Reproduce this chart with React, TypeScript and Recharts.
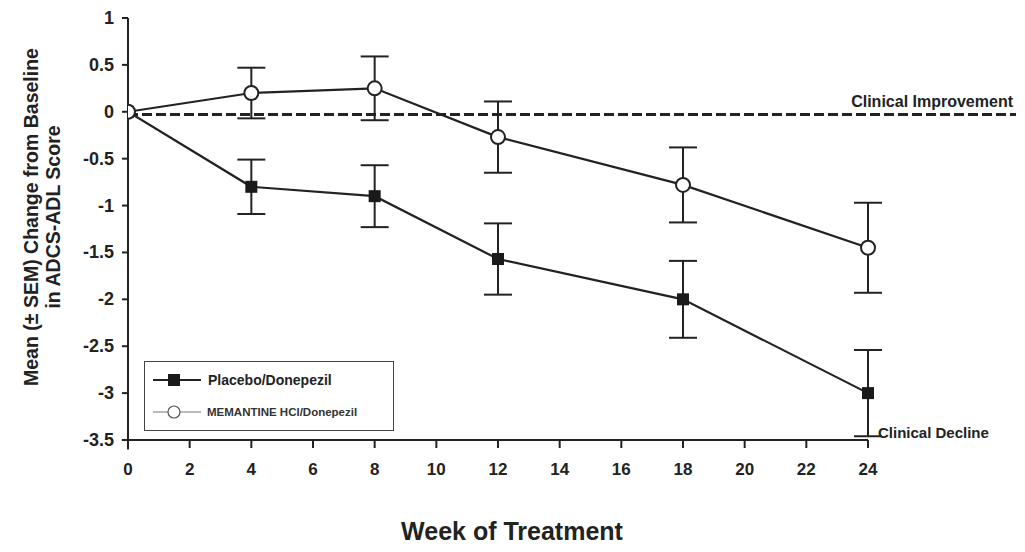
import React from 'react';
import {
  LineChart,
  Line,
  XAxis,
  YAxis,
  ErrorBar,
  ReferenceLine,
  ReferenceDot,
  Legend,
} from 'recharts';

const weeks = [0, 4, 8, 12, 18, 24];
const placeboMean = [0, -0.8, -0.9, -1.57, -2.0, -3.0];
const placeboSem = [0, 0.29, 0.33, 0.38, 0.41, 0.46];
const memantineMean = [0, 0.2, 0.25, -0.27, -0.78, -1.45];
const memantineSem = [0, 0.27, 0.34, 0.38, 0.4, 0.48];

const xTicks = [0, 2, 4, 6, 8, 10, 12, 14, 16, 18, 20, 22, 24];
const yTicks = [-3.5, -3, -2.5, -2, -1.5, -1, -0.5, 0, 0.5, 1];

const placeboData = weeks.map((w, i) => ({ week: w, value: placeboMean[i], err: placeboSem[i] }));
const memantineData = weeks.map((w, i) => ({ week: w, value: memantineMean[i], err: memantineSem[i] }));

const FONT = '"Liberation Sans", Arial, sans-serif';
const INK = '#222';

const SquareDot = (props: any) => {
  const { cx, cy } = props;
  if (cx == null || cy == null) return null;
  return <rect x={cx - 6} y={cy - 6} width={12} height={12} fill="#1a1a1a" />;
};

const CircleDot = (props: any) => {
  const { cx, cy } = props;
  if (cx == null || cy == null) return null;
  return <circle cx={cx} cy={cy} r={7} fill="#fff" stroke={INK} strokeWidth={2} />;
};

const YLabel = (props: any) => {
  const { viewBox } = props;
  const cy = viewBox.y + viewBox.height / 2 - 12;
  return (
    <g fontFamily={FONT} fontWeight="bold" fontSize={19.5} fill={INK} textAnchor="middle">
      <text transform={`translate(${23}, ${cy}) rotate(-90)`} dominantBaseline="central">
        Mean (± SEM) Change from Baseline
      </text>
      <text transform={`translate(${45}, ${cy}) rotate(-90)`} dominantBaseline="central">
        in ADCS-ADL Score
      </text>
    </g>
  );
};

const XTick = (props: any) => {
  const { x, y, payload } = props;
  return (
    <text x={x} y={y + 25} textAnchor="middle" fontFamily={FONT} fontWeight="bold" fontSize={17} fill={INK}>
      {payload.value}
    </text>
  );
};

const YTick = (props: any) => {
  const { x, y, payload } = props;
  return (
    <text x={x - 6} y={y + 6} textAnchor="end" fontFamily={FONT} fontWeight="bold" fontSize={18} fill={INK}>
      {payload.value}
    </text>
  );
};

const ImprovementLabel = (props: any) => {
  const { viewBox } = props;
  return (
    <text
      x={viewBox.x + viewBox.width - 3}
      y={viewBox.y - 8}
      textAnchor="end"
      fontFamily={FONT}
      fontWeight="bold"
      fontSize={16}
      fill={INK}
    >
      Clinical Improvement
    </text>
  );
};

const renderLegend = () => (
  <div
    style={{
      width: 250,
      height: 70,
      border: '1.5px solid #444',
      background: '#fff',
      boxSizing: 'border-box',
    }}
  >
    <svg width={248} height={68}>
      <line x1={8} x2={56} y1={18} y2={18} stroke={INK} strokeWidth={2} />
      <rect x={23} y={12} width={12} height={12} fill="#1a1a1a" />
      <text x={63} y={23} fontFamily={FONT} fontWeight="bold" fontSize={14} fill={INK}>
        Placebo/Donepezil
      </text>
      <line x1={8} x2={56} y1={50} y2={50} stroke="#777" strokeWidth={1.2} />
      <circle cx={29} cy={50} r={6} fill="#fff" stroke="#555" strokeWidth={1.2} />
      <text x={62} y={54} fontFamily={FONT} fontWeight="bold" fontSize={11.5} fill="#333">
        MEMANTINE HCl/Donepezil
      </text>
    </svg>
  </div>
);

export default function App() {
  return (
    <div style={{ width: 1010, height: 544, background: '#fff' }}>
      <LineChart width={1010} height={544} margin={{ top: 10, right: 2, left: 0, bottom: 52 }}>
        <XAxis
          type="number"
          dataKey="week"
          domain={[0, 28.8]}
          ticks={xTicks}
          allowDataOverflow
          axisLine={false}
          tickLine={{ stroke: INK, strokeWidth: 2 }}
          tickSize={8}
          tick={<XTick />}
          height={60}
          label={{
            value: 'Week of Treatment',
            position: 'insideBottom',
            offset: -40,
            dx: -60,
            style: { fontFamily: FONT, fontWeight: 'bold', fontSize: 25, fill: INK },
          }}
        />
        <YAxis
          type="number"
          domain={[-3.5, 1]}
          ticks={yTicks}
          width={120}
          axisLine={false}
          tickLine={{ stroke: INK, strokeWidth: 2 }}
          tickSize={6}
          tick={<YTick />}
          label={<YLabel />}
        />
        <ReferenceLine
          segment={[
            { x: 0, y: -3.6 },
            { x: 0, y: 1 },
          ]}
          stroke={INK}
          strokeWidth={2}
          ifOverflow="visible"
        />
        <ReferenceLine
          segment={[
            { x: -0.2, y: -3.5 },
            { x: 24, y: -3.5 },
          ]}
          stroke={INK}
          strokeWidth={2}
          ifOverflow="visible"
        />
        <ReferenceLine
          y={-0.03}
          stroke={INK}
          strokeWidth={3}
          strokeDasharray="10 4"
          label={<ImprovementLabel />}
        />
        <ReferenceDot
          x={24}
          y={-3.5}
          r={0}
          fill="none"
          stroke="none"
          ifOverflow="visible"
          label={{
            value: 'Clinical Decline',
            position: 'right',
            offset: 10,
            dy: -7,
            style: { fontFamily: FONT, fontWeight: 'bold', fontSize: 15, fill: INK },
          }}
        />
        <Legend
          layout="vertical"
          align="center"
          verticalAlign="middle"
          content={renderLegend}
          wrapperStyle={{ left: 136, top: 353, width: 250, height: 70 }}
        />
        <Line
          data={placeboData}
          dataKey="value"
          name="Placebo/Donepezil"
          stroke={INK}
          strokeWidth={2.2}
          dot={<SquareDot />}
          activeDot={false}
          isAnimationActive={false}
        >
          <ErrorBar dataKey="err" width={14} stroke={INK} strokeWidth={2} direction="y" />
        </Line>
        <Line
          data={memantineData}
          dataKey="value"
          name="MEMANTINE HCl/Donepezil"
          stroke={INK}
          strokeWidth={2.2}
          dot={<CircleDot />}
          activeDot={false}
          isAnimationActive={false}
        >
          <ErrorBar dataKey="err" width={14} stroke={INK} strokeWidth={2} direction="y" />
        </Line>
      </LineChart>
    </div>
  );
}
